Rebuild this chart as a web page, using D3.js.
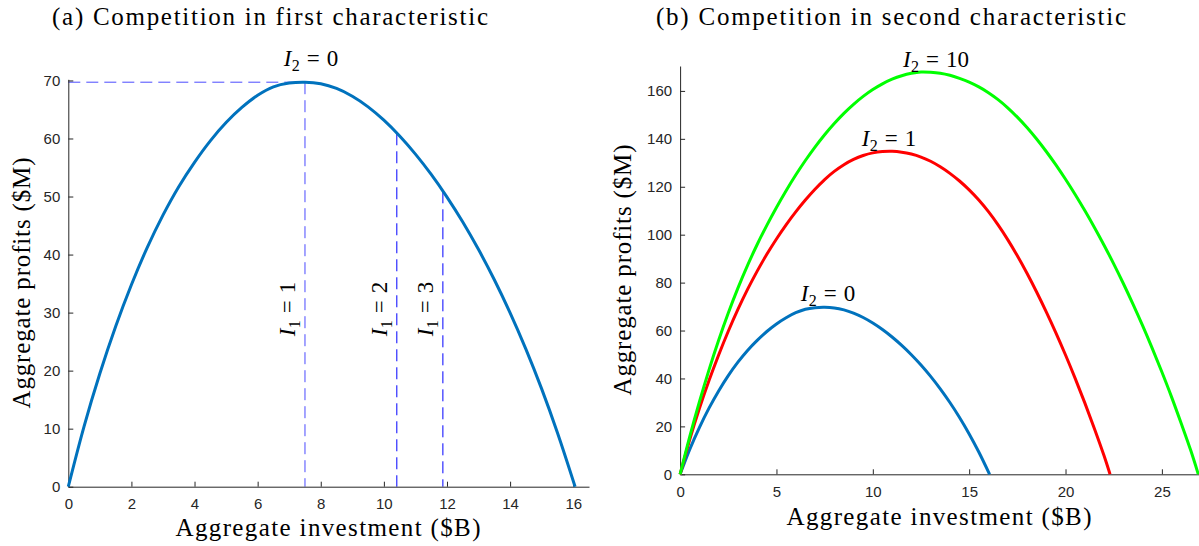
<!DOCTYPE html>
<html>
<head>
<meta charset="utf-8">
<script src="https://d3js.org/d3.v7.min.js"></script>
<style>
  body { margin: 0; background: #fff; }
  .tick text { font-family: "Liberation Sans", Arial, sans-serif; font-size: 15px; fill: #262626; }
  .domain, .tick line { stroke: #262626; }
  .lbl { font-family: "Liberation Serif", "Times New Roman", serif; fill: #000; }
</style>
</head>
<body>
<script>
// panel (a), and the I2 = 0 curve of panel (b)
var invest0 = [0, 0.5, 1, 1.5, 2, 2.5, 3, 3.5, 4, 4.5, 5, 5.5, 6, 6.5, 7, 7.5, 8, 8.5, 9, 9.5,
               10, 10.5, 11, 11.5, 12, 12.5, 13, 13.5, 14, 14.5, 15, 15.5, 16.06];
var profit0 = [0, 10.4, 19.5, 27.6, 34.8, 41.2, 46.8, 51.7, 55.9, 59.6, 62.75, 65.35, 67.45, 68.9, 69.55, 69.7,
               69.43, 68.62, 67.28, 65.45, 63.15, 60.43, 57.31, 53.81, 49.91, 45.61, 40.86, 35.66, 29.96,
               23.71, 16.86, 9.31, 0];

// panel (b): I2 = 1
var invest1 = [0, 0.5, 1, 1.5, 2, 2.5, 3, 3.5, 4, 4.5, 5, 5.5, 6, 6.5, 7, 7.5, 8, 8.5, 9, 9.5, 10, 10.5,
               11, 11.5, 12, 12.5, 13, 13.5, 14, 14.5, 15, 15.5, 16, 16.5, 17, 17.5, 18, 18.5, 19, 19.5,
               20, 20.5, 21, 21.5, 22, 22.31];
var profit1 = [0, 14.5, 27.4, 39.1, 49.8, 59.7, 68.8, 77.15, 84.8, 91.8, 98.2, 104.1, 109.5, 114.45, 118.95,
               123.0, 126.4, 129.2, 131.4, 133.05, 134.15, 134.7, 134.8, 134.45, 133.65, 132.4, 130.65, 128.35,
               125.6, 122.4, 118.7, 114.45, 109.6, 104.1, 97.95, 91.2, 83.9, 76.1, 67.8, 59.05, 49.8, 40.05,
               29.8, 19.0, 7.7, 0];

// panel (b): I2 = 10
var invest10 = [0, 0.5, 1, 1.5, 2, 2.5, 3, 3.5, 4, 4.5, 5, 5.5, 6, 6.5, 7, 7.5, 8, 8.5, 9, 9.5, 10, 10.5,
                11, 11.5, 12, 12.5, 13, 13.5, 14, 14.5, 15, 15.5, 16, 16.5, 17, 17.5, 18, 18.5, 19, 19.5,
                20, 20.5, 21, 21.5, 22, 22.5, 23, 23.5, 24, 24.5, 25, 25.5, 26, 26.5, 26.89];
var profit10 = [0, 15.7, 30.2, 43.6, 55.95, 67.3, 77.7, 87.2, 95.9, 103.9, 111.35, 118.35, 124.89, 130.97,
                136.58, 141.73, 146.42, 150.65, 154.42, 157.73, 160.58, 162.96, 164.88, 166.34, 167.34, 167.87,
                167.77, 167.37, 166.52, 165.22, 163.67, 161.67, 159.27, 156.37, 152.97, 149.07, 144.72, 139.92,
                134.72, 129.12, 123.12, 116.77, 110.07, 103.02, 95.62, 87.82, 79.62, 71.02, 62.02, 52.57,
                42.67, 32.32, 21.3, 9.9, 0];

// optimal investment for I1 = 1, 2, 3 (dashed markers)
var optInvest = [7.5, 10.41, 11.87];
var optProfit = [69.7, 60.9, 50.9];
var optNames = ["1", "2", "3"];

var ticksA_x = [0, 2, 4, 6, 8, 10, 12, 14, 16];
var ticksA_y = [0, 10, 20, 30, 40, 50, 60, 70];
var ticksB_x = [0, 5, 10, 15, 20, 25];
var ticksB_y = [0, 20, 40, 60, 80, 100, 120, 140, 160];

var W = 1199, H = 546;
var svg = d3.select("body").append("svg").attr("width", W).attr("height", H);

var zip = function (xs, ys) { return xs.map(function (x, i) { return [x, ys[i]]; }); };

// I_sub = rhs, typeset roughly like LaTeX math
var mathLabel = function (sel, x, y, sub, rhs, rotate) {
    var size = 23;
    var t = sel.append("text").classed("lbl", true)
        .attr("font-size", size)
        .attr("text-anchor", "middle")
        .attr("transform", "translate(" + x + "," + y + ")" + (rotate ? " rotate(-90)" : ""));
    t.append("tspan").attr("font-style", "italic").text("I");
    t.append("tspan").attr("font-size", 16).attr("dx", 0.5).attr("dy", 5).text(sub);
    t.append("tspan").attr("dx", 7).attr("dy", -5).text("=");
    t.append("tspan").attr("dx", 7).text(rhs);
    return t;
};

var plainLabel = function (sel, x, y, txt, len, rotate) {
    return sel.append("text").classed("lbl", true)
        .attr("font-size", 25)
        .attr("text-anchor", "middle")
        .attr("textLength", len)
        .attr("transform", "translate(" + x + "," + y + ")" + (rotate ? " rotate(-90)" : ""))
        .text(txt);
};

var draw_axes = function (g, x, y, xt, yt) {
    g.append("g").attr("transform", "translate(0," + y.range()[0] + ")")
        .call(d3.axisBottom(x).tickValues(xt).tickSizeInner(-5).tickSizeOuter(0).tickPadding(12));
    g.append("g").attr("transform", "translate(" + x.range()[0] + ",0)")
        .call(d3.axisLeft(y).tickValues(yt).tickSizeInner(-5).tickSizeOuter(0).tickPadding(8));
};

var line = function (x, y) {
    return d3.line().x(function (d) { return x(d[0]); }).y(function (d) { return y(d[1]); })
        .curve(d3.curveCatmullRom.alpha(0.5));
};

/* Panel (a) */
var xa = d3.scaleLinear().domain([0, 16.5]).range([68.3, 589]);
var ya = d3.scaleLinear().domain([0, 70.2]).range([486.7, 79.3]);
var ga = svg.append("g");

// dashed guides
ga.append("line")
    .attr("x1", xa(0)).attr("x2", xa(optInvest[0]))
    .attr("y1", ya(optProfit[0])).attr("y2", ya(optProfit[0]))
    .attr("stroke", "#4a4aff").attr("stroke-width", 1).attr("stroke-dasharray", "12,6");
ga.selectAll(".vguide").data(d3.range(optInvest.length)).enter().append("line")
    .classed("vguide", true)
    .attr("x1", function (i) { return xa(optInvest[i]); })
    .attr("x2", function (i) { return xa(optInvest[i]); })
    .attr("y1", function (i) { return ya(optProfit[i]); })
    .attr("y2", ya(0))
    .attr("stroke", function (i) { return i == 0 ? "#4a4aff" : "#0000ff"; })
    .attr("stroke-width", 1).attr("stroke-dasharray", "12,6");

draw_axes(ga, xa, ya, ticksA_x, ticksA_y);

ga.append("path").datum(zip(invest0, profit0))
    .attr("fill", "none").attr("stroke", "#0072BD").attr("stroke-width", 3)
    .attr("d", line(xa, ya));

// rotated I1 labels, just left of each guide
optInvest.forEach(function (v, i) {
    mathLabel(ga, xa(v) - 10, 309, "1", optNames[i], true);
});
mathLabel(ga, 311, 66, "2", "0", false);

plainLabel(ga, 270, 25, "(a) Competition in first characteristic", 436, false);
plainLabel(ga, 328, 536, "Aggregate investment ($B)", 305, false);
plainLabel(ga, 30, 283, "Aggregate profits ($M)", 251, true);

/* Panel (b) */
var xb = d3.scaleLinear().domain([0, 26.9]).range([680.1, 1198.5]);
var yb = d3.scaleLinear().domain([0, 170.4]).range([474.3, 66]);
var gb = svg.append("g");

draw_axes(gb, xb, yb, ticksB_x, ticksB_y);

var series = [
    { xs: invest0, ys: profit0, color: "#0072BD" },
    { xs: invest1, ys: profit1, color: "#FF0000" },
    { xs: invest10, ys: profit10, color: "#00FF00" }
];
gb.selectAll(".curve").data(series).enter().append("path")
    .classed("curve", true)
    .attr("fill", "none").attr("stroke-width", 3)
    .attr("stroke", function (d) { return d.color; })
    .attr("d", function (d) { return line(xb, yb)(zip(d.xs, d.ys)); });

mathLabel(gb, 828, 301, "2", "0", false);
mathLabel(gb, 889, 146, "2", "1", false);
mathLabel(gb, 936, 67, "2", "10", false);

plainLabel(gb, 891, 25, "(b) Competition in second characteristic", 470, false);
plainLabel(gb, 939, 525, "Aggregate investment ($B)", 305, false);
plainLabel(gb, 631, 270, "Aggregate profits ($M)", 251, true);
</script>
</body>
</html>
